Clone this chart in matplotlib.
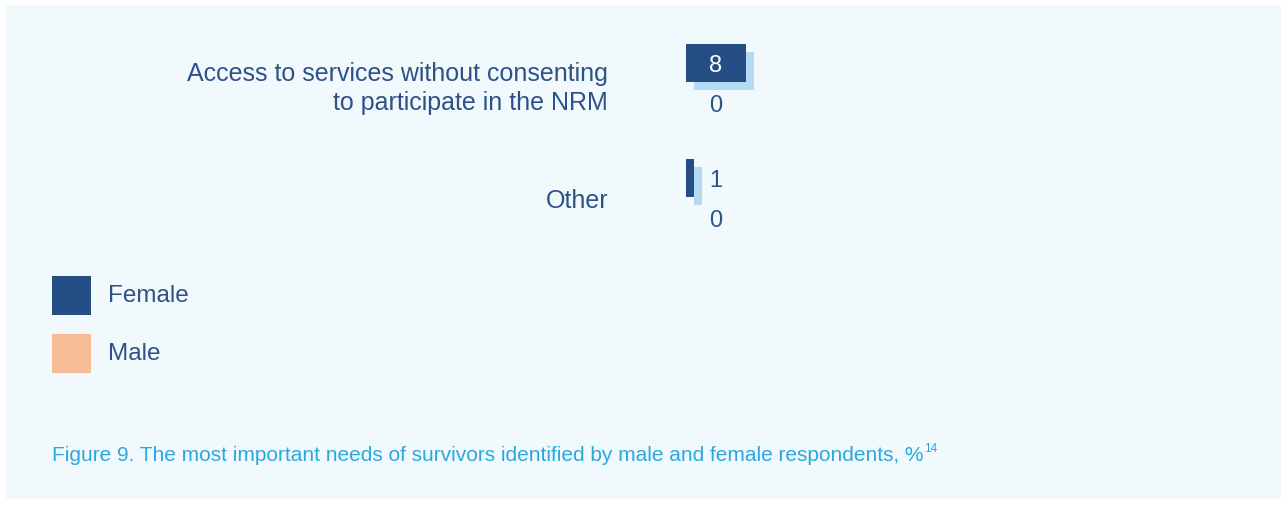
import numpy as np
import matplotlib
matplotlib.use("Agg")
import matplotlib.pyplot as plt
from matplotlib.patches import Rectangle
from matplotlib import patheffects as pe

plt.rcParams['font.family'] = ['Liberation Sans', 'DejaVu Sans']

categories = ["Access to services without consenting\nto participate in the NRM", "Other"]
female = [8, 1]
male = [0, 0]
series_names = ["Female", "Male"]

FEMALE_C = "#244e84"
MALE_C = "#f5bc96"
SHADOW_C = "#b5dbf4"
TEXT_C = "#2d5287"
CAPTION_C = "#2aa8e0"
PANEL_C = "#f2f9fd"

W, H = 1287, 506
fig = plt.figure(figsize=(W / 100, H / 100), dpi=100, facecolor="white")
fig.patches.append(Rectangle((6 / W, 6 / H), (W - 12) / W, (H - 12) / H,
                             transform=fig.transFigure, facecolor=PANEL_C,
                             edgecolor="none", zorder=-10))

# bar area: x = 0 at 686 px, 7.5 px per unit; one category per 115 px
left_px, right_px = 686, 1236
top_px, bot_px = 26, 256
ax = fig.add_axes([left_px / W, 1 - bot_px / H, (right_px - left_px) / W, (bot_px - top_px) / H])
ax.set_zorder(5)
ax.set_facecolor("none")
ax.set_xlim(0, (right_px - left_px) / 7.5)
ax.set_ylim(len(categories) - 0.5, -0.5)

y = np.arange(len(categories))
off = 0.17
h = 0.33
fb = ax.barh(y - off, female, height=h, color=FEMALE_C, zorder=3)
mb = ax.barh(y + off, male, height=h, color=MALE_C, zorder=3)
for bar in list(fb) + list(mb):
    if bar.get_width() > 0:
        bar.set_path_effects([pe.SimplePatchShadow(offset=(5.8, -5.6), shadow_rgbFace=SHADOW_C, alpha=1.0),
                              pe.Normal()])

for yy, v in zip(y - off, female):
    inside = v >= 4
    ax.text(max(v, 8) / 2, yy, f"{v}", ha="center", va="center_baseline", fontsize=17,
            color="white" if inside else TEXT_C, zorder=5)
for yy, v in zip(y + off, male):
    ax.text(max(v, 8) / 2, yy, f"{v}", ha="center", va="center_baseline", fontsize=17,
            color=TEXT_C, zorder=5)

ax.set_yticks(y)
ax.set_yticklabels(categories, fontsize=18, color=TEXT_C, linespacing=1.25)
ax.tick_params(axis="y", length=0, pad=56)
for lbl in ax.get_yticklabels():
    lbl.set_va("center_baseline")
ax.set_xticks([])
for s in ax.spines.values():
    s.set_visible(False)

# legend: coloured squares with labels
for i, (name, col) in enumerate(zip(series_names, [FEMALE_C, MALE_C])):
    top = 277 + 58 * i
    fig.patches.append(Rectangle((52 / W, 1 - (top + 39) / H), 39 / W, 39 / H,
                                 transform=fig.transFigure, facecolor=col,
                                 edgecolor="none", zorder=2))
    fig.text(108 / W, 1 - (top + 19.5) / H, name, fontsize=17.5, color=TEXT_C,
             ha="left", va="center")

cap = fig.text(52 / W, 1 - 456 / H,
               "Figure 9. The most important needs of survivors identified by male and female respondents, %",
               fontsize=15, color=CAPTION_C, ha="left", va="center")
fig.canvas.draw()
bb = cap.get_window_extent()
fig.text((bb.x1 + 1) / W, 1 - 449 / H, "14", fontsize=8.5, color=CAPTION_C, ha="left", va="center")

fig.savefig("out.png", dpi=100, facecolor=fig.get_facecolor())
